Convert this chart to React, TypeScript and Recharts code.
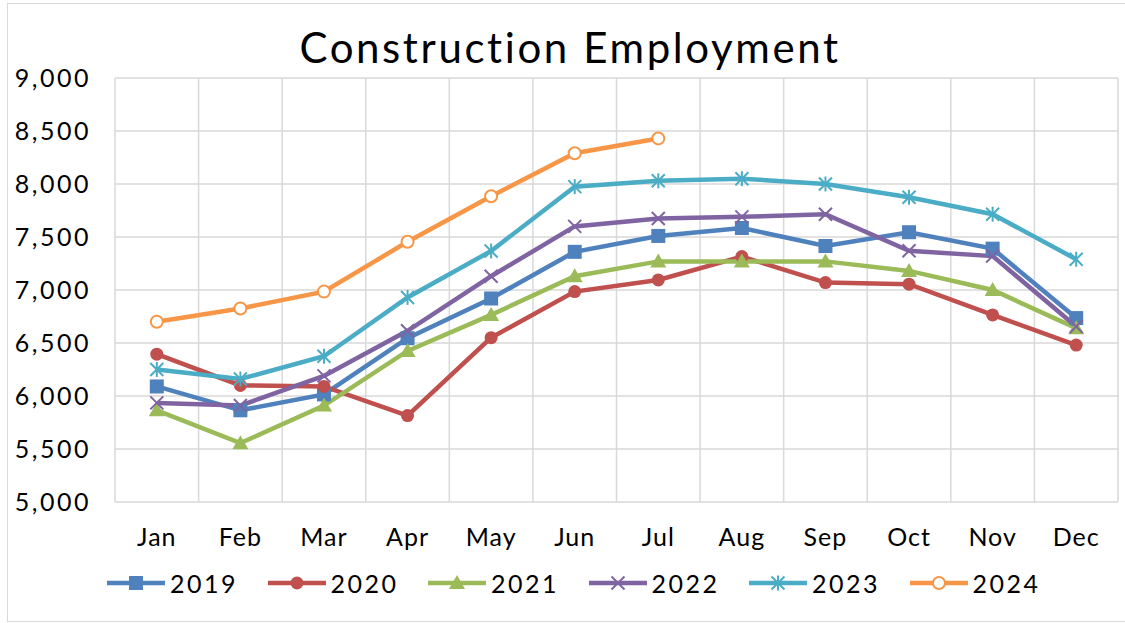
import { CartesianGrid, Legend, Line, LineChart, XAxis, YAxis } from "recharts";

const months = ["Jan", "Feb", "Mar", "Apr", "May", "Jun", "Jul", "Aug", "Sep", "Oct", "Nov", "Dec"];

const y2019 = [6090, 5865, 6015, 6545, 6920, 7360, 7510, 7585, 7415, 7545, 7390, 6735];
const y2020 = [6395, 6100, 6090, 5815, 6550, 6985, 7095, 7315, 7070, 7055, 6765, 6480];
const y2021 = [5865, 5555, 5910, 6425, 6765, 7130, 7270, 7270, 7270, 7180, 7000, 6640];
const y2022 = [5935, 5910, 6190, 6615, 7130, 7600, 7675, 7690, 7715, 7370, 7320, 6655];
const y2023 = [6250, 6160, 6375, 6930, 7368, 7975, 8030, 8050, 8000, 7875, 7715, 7290];
const y2024 = [6700, 6825, 6985, 7455, 7885, 8290, 8430];

const yTicks = [5000, 5500, 6000, 6500, 7000, 7500, 8000, 8500, 9000];

type Shape = "square" | "circle" | "triangle" | "x" | "star" | "open";

const series: { key: string; color: string; shape: Shape }[] = [
  { key: "2019", color: "#4f81bd", shape: "square" },
  { key: "2020", color: "#c0504d", shape: "circle" },
  { key: "2021", color: "#9bbb59", shape: "triangle" },
  { key: "2022", color: "#8064a2", shape: "x" },
  { key: "2023", color: "#4bacc6", shape: "star" },
  { key: "2024", color: "#f79646", shape: "open" },
];

const values: Record<string, number[]> = {
  "2019": y2019,
  "2020": y2020,
  "2021": y2021,
  "2022": y2022,
  "2023": y2023,
  "2024": y2024,
};

const data = months.map((month, i) => {
  const row: Record<string, string | number | undefined> = { month };
  series.forEach((s) => {
    row[s.key] = values[s.key][i];
  });
  return row;
});

const FONT = "Lato, 'Noto Sans', sans-serif";

function Marker({ cx, cy, shape, color }: { cx: number; cy: number; shape: Shape; color: string }) {
  if (cx == null || cy == null || Number.isNaN(cx) || Number.isNaN(cy)) return null;
  switch (shape) {
    case "square":
      return <rect x={cx - 7} y={cy - 7} width={14} height={14} fill={color} />;
    case "circle":
      return <circle cx={cx} cy={cy} r={6.5} fill={color} />;
    case "triangle":
      return <polygon points={`${cx},${cy - 8} ${cx + 8},${cy + 6} ${cx - 8},${cy + 6}`} fill={color} />;
    case "x":
      return (
        <g stroke={color} strokeWidth={2}>
          <line x1={cx - 6.5} y1={cy - 6.5} x2={cx + 6.5} y2={cy + 6.5} />
          <line x1={cx - 6.5} y1={cy + 6.5} x2={cx + 6.5} y2={cy - 6.5} />
        </g>
      );
    case "star":
      return (
        <g stroke={color} strokeWidth={2}>
          <line x1={cx - 6.5} y1={cy - 6.5} x2={cx + 6.5} y2={cy + 6.5} />
          <line x1={cx - 6.5} y1={cy + 6.5} x2={cx + 6.5} y2={cy - 6.5} />
          <line x1={cx} y1={cy - 7.5} x2={cx} y2={cy + 7.5} />
        </g>
      );
    case "open":
      return <circle cx={cx} cy={cy} r={6} fill="#ffffff" stroke={color} strokeWidth={2} />;
  }
  return null;
}

function LegendContent() {
  return (
    <div style={{ display: "flex", fontFamily: FONT, fontSize: 25, letterSpacing: 2.5, color: "#000" }}>
      {series.map((s) => (
        <div key={s.key} style={{ width: 160.5, display: "flex", alignItems: "center" }}>
          <svg width={58} height={20} style={{ display: "block" }}>
            <line x1={0} y1={10} x2={58} y2={10} stroke={s.color} strokeWidth={4.5} strokeLinecap="round" />
            <Marker cx={29} cy={10} shape={s.shape} color={s.color} />
          </svg>
          <span style={{ marginLeft: 5, lineHeight: "26px" }}>{s.key}</span>
        </div>
      ))}
    </div>
  );
}

function verticalLines({ offset }: { offset: { left: number; width: number } }) {
  return months.map((_, i) => offset.left + (i * offset.width) / months.length).concat(offset.left + offset.width);
}

export default function App() {
  return (
    <div style={{ position: "absolute", left: 0, top: 0, width: 1125, height: 623, background: "#fff" }}>
      <div
        style={{
          position: "absolute",
          left: 7,
          top: 3,
          width: 1130,
          height: 617,
          borderLeft: "1.5px solid #d9d9d9",
          borderTop: "1.5px solid #d9d9d9",
          borderBottom: "1.5px solid #d9d9d9",
        }}
      />
      <svg width={1125} height={80} style={{ position: "absolute", left: 0, top: 0 }}>
        <text x={570} y={63} textAnchor="middle" fontFamily={FONT} fontSize={42} letterSpacing={2.6} fill="#000">
          Construction Employment
        </text>
      </svg>
      <div style={{ position: "absolute", left: 0, top: 0 }}>
        <LineChart width={1125} height={623} data={data} margin={{ top: 78, right: 7, bottom: 91, left: 0 }}>
          <CartesianGrid
            stroke="#d9d9d9"
            strokeWidth={1.5}
            verticalCoordinatesGenerator={verticalLines as any}
          />
          <XAxis
            dataKey="month"
            axisLine={false}
            tickLine={false}
            padding={{ left: 41.8, right: 41.8 }}
            tickMargin={20}
            interval={0}
            tick={{ fill: "#000", fontSize: 25, fontFamily: FONT, letterSpacing: 1 }}
          />
          <YAxis
            width={115}
            domain={[5000, 9000]}
            ticks={yTicks}
            axisLine={false}
            tickLine={false}
            tickMargin={18}
            tickFormatter={(v: number) => v.toLocaleString("en-US")}
            tick={{ fill: "#000", fontSize: 25, fontFamily: FONT, letterSpacing: 2.5 }}
          />
          <Legend
            layout="horizontal"
            verticalAlign="middle"
            content={<LegendContent />}
            wrapperStyle={{ left: 107, top: 570, width: 1000, height: 28 }}
          />
          {series.map((s) => (
            <Line
              key={s.key}
              dataKey={s.key}
              stroke={s.color}
              strokeWidth={4.5}
              isAnimationActive={false}
              dot={(p: any) => <Marker key={`${s.key}-${p.index}`} cx={p.cx} cy={p.cy} shape={s.shape} color={s.color} />}
              activeDot={false}
            />
          ))}
        </LineChart>
      </div>
    </div>
  );
}
